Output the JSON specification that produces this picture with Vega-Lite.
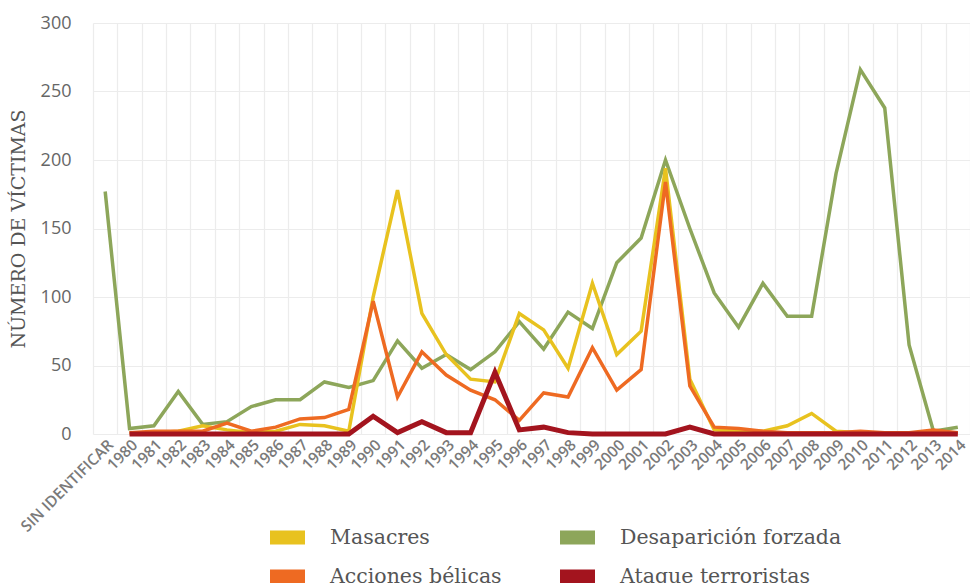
{
  "$schema": "https://vega.github.io/schema/vega-lite/v6.json",
  "width": 877,
  "height": 411,
  "autosize": {"type": "none"},
  "padding": {"left": 93, "top": 23, "right": 0, "bottom": 149},
  "background": "white",
  "config": {
    "view": {"stroke": null},
    "axis": {"gridColor": "#ececec", "gridWidth": 1.2, "domain": false, "ticks": false}
  },
  "data": {
    "values": [
      {"a": "SIN IDENTIFICAR", "t": "Desaparición forzada", "v": 177},
      {"a": "1980", "t": "Desaparición forzada", "v": 4},
      {"a": "1981", "t": "Desaparición forzada", "v": 6},
      {"a": "1982", "t": "Desaparición forzada", "v": 31},
      {"a": "1983", "t": "Desaparición forzada", "v": 7},
      {"a": "1984", "t": "Desaparición forzada", "v": 9},
      {"a": "1985", "t": "Desaparición forzada", "v": 20},
      {"a": "1986", "t": "Desaparición forzada", "v": 25},
      {"a": "1987", "t": "Desaparición forzada", "v": 25},
      {"a": "1988", "t": "Desaparición forzada", "v": 38},
      {"a": "1989", "t": "Desaparición forzada", "v": 34},
      {"a": "1990", "t": "Desaparición forzada", "v": 39},
      {"a": "1991", "t": "Desaparición forzada", "v": 68},
      {"a": "1992", "t": "Desaparición forzada", "v": 48},
      {"a": "1993", "t": "Desaparición forzada", "v": 58},
      {"a": "1994", "t": "Desaparición forzada", "v": 47},
      {"a": "1995", "t": "Desaparición forzada", "v": 60},
      {"a": "1996", "t": "Desaparición forzada", "v": 82},
      {"a": "1997", "t": "Desaparición forzada", "v": 62},
      {"a": "1998", "t": "Desaparición forzada", "v": 89},
      {"a": "1999", "t": "Desaparición forzada", "v": 77},
      {"a": "2000", "t": "Desaparición forzada", "v": 125},
      {"a": "2001", "t": "Desaparición forzada", "v": 143},
      {"a": "2002", "t": "Desaparición forzada", "v": 200},
      {"a": "2003", "t": "Desaparición forzada", "v": 150},
      {"a": "2004", "t": "Desaparición forzada", "v": 103},
      {"a": "2005", "t": "Desaparición forzada", "v": 78},
      {"a": "2006", "t": "Desaparición forzada", "v": 110},
      {"a": "2007", "t": "Desaparición forzada", "v": 86},
      {"a": "2008", "t": "Desaparición forzada", "v": 86},
      {"a": "2009", "t": "Desaparición forzada", "v": 190},
      {"a": "2010", "t": "Desaparición forzada", "v": 266},
      {"a": "2011", "t": "Desaparición forzada", "v": 238},
      {"a": "2012", "t": "Desaparición forzada", "v": 65},
      {"a": "2013", "t": "Desaparición forzada", "v": 2},
      {"a": "2014", "t": "Desaparición forzada", "v": 5},
      {"a": "1980", "t": "Masacres", "v": 1},
      {"a": "1981", "t": "Masacres", "v": 1},
      {"a": "1982", "t": "Masacres", "v": 2},
      {"a": "1983", "t": "Masacres", "v": 6},
      {"a": "1984", "t": "Masacres", "v": 3},
      {"a": "1985", "t": "Masacres", "v": 1},
      {"a": "1986", "t": "Masacres", "v": 2},
      {"a": "1987", "t": "Masacres", "v": 7},
      {"a": "1988", "t": "Masacres", "v": 6},
      {"a": "1989", "t": "Masacres", "v": 2},
      {"a": "1990", "t": "Masacres", "v": 100},
      {"a": "1991", "t": "Masacres", "v": 178},
      {"a": "1992", "t": "Masacres", "v": 88},
      {"a": "1993", "t": "Masacres", "v": 58},
      {"a": "1994", "t": "Masacres", "v": 40},
      {"a": "1995", "t": "Masacres", "v": 38},
      {"a": "1996", "t": "Masacres", "v": 88},
      {"a": "1997", "t": "Masacres", "v": 76},
      {"a": "1998", "t": "Masacres", "v": 48},
      {"a": "1999", "t": "Masacres", "v": 110},
      {"a": "2000", "t": "Masacres", "v": 58},
      {"a": "2001", "t": "Masacres", "v": 75},
      {"a": "2002", "t": "Masacres", "v": 194},
      {"a": "2003", "t": "Masacres", "v": 40},
      {"a": "2004", "t": "Masacres", "v": 3},
      {"a": "2005", "t": "Masacres", "v": 2},
      {"a": "2006", "t": "Masacres", "v": 2},
      {"a": "2007", "t": "Masacres", "v": 6},
      {"a": "2008", "t": "Masacres", "v": 15},
      {"a": "2009", "t": "Masacres", "v": 2},
      {"a": "2010", "t": "Masacres", "v": 1},
      {"a": "2011", "t": "Masacres", "v": 1},
      {"a": "2012", "t": "Masacres", "v": 1},
      {"a": "2013", "t": "Masacres", "v": 1},
      {"a": "2014", "t": "Masacres", "v": 1},
      {"a": "1980", "t": "Acciones bélicas", "v": 1},
      {"a": "1981", "t": "Acciones bélicas", "v": 2},
      {"a": "1982", "t": "Acciones bélicas", "v": 2},
      {"a": "1983", "t": "Acciones bélicas", "v": 2},
      {"a": "1984", "t": "Acciones bélicas", "v": 8},
      {"a": "1985", "t": "Acciones bélicas", "v": 2},
      {"a": "1986", "t": "Acciones bélicas", "v": 5},
      {"a": "1987", "t": "Acciones bélicas", "v": 11},
      {"a": "1988", "t": "Acciones bélicas", "v": 12},
      {"a": "1989", "t": "Acciones bélicas", "v": 18},
      {"a": "1990", "t": "Acciones bélicas", "v": 97},
      {"a": "1991", "t": "Acciones bélicas", "v": 27},
      {"a": "1992", "t": "Acciones bélicas", "v": 60},
      {"a": "1993", "t": "Acciones bélicas", "v": 43},
      {"a": "1994", "t": "Acciones bélicas", "v": 32},
      {"a": "1995", "t": "Acciones bélicas", "v": 25},
      {"a": "1996", "t": "Acciones bélicas", "v": 10},
      {"a": "1997", "t": "Acciones bélicas", "v": 30},
      {"a": "1998", "t": "Acciones bélicas", "v": 27},
      {"a": "1999", "t": "Acciones bélicas", "v": 63},
      {"a": "2000", "t": "Acciones bélicas", "v": 32},
      {"a": "2001", "t": "Acciones bélicas", "v": 47},
      {"a": "2002", "t": "Acciones bélicas", "v": 184},
      {"a": "2003", "t": "Acciones bélicas", "v": 35},
      {"a": "2004", "t": "Acciones bélicas", "v": 5},
      {"a": "2005", "t": "Acciones bélicas", "v": 4},
      {"a": "2006", "t": "Acciones bélicas", "v": 2},
      {"a": "2007", "t": "Acciones bélicas", "v": 1},
      {"a": "2008", "t": "Acciones bélicas", "v": 1},
      {"a": "2009", "t": "Acciones bélicas", "v": 1},
      {"a": "2010", "t": "Acciones bélicas", "v": 2},
      {"a": "2011", "t": "Acciones bélicas", "v": 1},
      {"a": "2012", "t": "Acciones bélicas", "v": 1},
      {"a": "2013", "t": "Acciones bélicas", "v": 3},
      {"a": "2014", "t": "Acciones bélicas", "v": 1},
      {"a": "1980", "t": "Ataque terroristas", "v": 0},
      {"a": "1981", "t": "Ataque terroristas", "v": 0},
      {"a": "1982", "t": "Ataque terroristas", "v": 0},
      {"a": "1983", "t": "Ataque terroristas", "v": 0},
      {"a": "1984", "t": "Ataque terroristas", "v": 0},
      {"a": "1985", "t": "Ataque terroristas", "v": 0},
      {"a": "1986", "t": "Ataque terroristas", "v": 0},
      {"a": "1987", "t": "Ataque terroristas", "v": 0},
      {"a": "1988", "t": "Ataque terroristas", "v": 0},
      {"a": "1989", "t": "Ataque terroristas", "v": 0},
      {"a": "1990", "t": "Ataque terroristas", "v": 13},
      {"a": "1991", "t": "Ataque terroristas", "v": 1},
      {"a": "1992", "t": "Ataque terroristas", "v": 9},
      {"a": "1993", "t": "Ataque terroristas", "v": 1},
      {"a": "1994", "t": "Ataque terroristas", "v": 1},
      {"a": "1995", "t": "Ataque terroristas", "v": 45},
      {"a": "1996", "t": "Ataque terroristas", "v": 3},
      {"a": "1997", "t": "Ataque terroristas", "v": 5},
      {"a": "1998", "t": "Ataque terroristas", "v": 1},
      {"a": "1999", "t": "Ataque terroristas", "v": 0},
      {"a": "2000", "t": "Ataque terroristas", "v": 0},
      {"a": "2001", "t": "Ataque terroristas", "v": 0},
      {"a": "2002", "t": "Ataque terroristas", "v": 0},
      {"a": "2003", "t": "Ataque terroristas", "v": 5},
      {"a": "2004", "t": "Ataque terroristas", "v": 0},
      {"a": "2005", "t": "Ataque terroristas", "v": 0},
      {"a": "2006", "t": "Ataque terroristas", "v": 0},
      {"a": "2007", "t": "Ataque terroristas", "v": 0},
      {"a": "2008", "t": "Ataque terroristas", "v": 0},
      {"a": "2009", "t": "Ataque terroristas", "v": 0},
      {"a": "2010", "t": "Ataque terroristas", "v": 0},
      {"a": "2011", "t": "Ataque terroristas", "v": 0},
      {"a": "2012", "t": "Ataque terroristas", "v": 0},
      {"a": "2013", "t": "Ataque terroristas", "v": 0},
      {"a": "2014", "t": "Ataque terroristas", "v": 0}
    ]
  },
  "encoding": {
    "x": {
      "field": "a",
      "type": "ordinal",
      "scale": {
        "type": "band",
        "paddingInner": 0,
        "paddingOuter": 0,
        "domain": ["SIN IDENTIFICAR", "1980", "1981", "1982", "1983", "1984", "1985", "1986", "1987", "1988", "1989", "1990", "1991", "1992", "1993", "1994", "1995", "1996", "1997", "1998", "1999", "2000", "2001", "2002", "2003", "2004", "2005", "2006", "2007", "2008", "2009", "2010", "2011", "2012", "2013", "2014"]
      },
      "axis": {
        "title": null,
        "tickBand": "extent",
        "grid": true,
        "labelAngle": -45,
        "labelFont": "Open Sans",
        "labelFontSize": 15.5,
        "labelFontWeight": 600,
        "labelColor": "#7a7a7a",
        "labelPadding": 3
      }
    },
    "y": {
      "field": "v",
      "type": "quantitative",
      "scale": {"domain": [0, 300], "nice": false},
      "axis": {
        "values": [0, 50, 100, 150, 200, 250, 300],
        "title": "NÚMERO DE VÍCTIMAS",
        "titleFont": "DejaVu Serif",
        "titleFontSize": 19,
        "titleFontWeight": "normal",
        "titleColor": "#555555",
        "titlePadding": 12,
        "labelFont": "Open Sans",
        "labelFontSize": 18,
        "labelColor": "#666666",
        "labelPadding": 22
      }
    },
    "color": {
      "field": "t",
      "type": "nominal",
      "scale": {
        "domain": ["Masacres", "Desaparición forzada", "Acciones bélicas", "Ataque terroristas"],
        "range": ["#E8C21F", "#8DA65A", "#EE6A22", "#A3141E"]
      },
      "legend": {
        "title": null,
        "orient": "none",
        "legendX": 177,
        "legendY": 497,
        "direction": "horizontal",
        "columns": 2,
        "columnPadding": 58,
        "rowPadding": 11,
        "symbolType": "M-1,-0.4H1V0.4H-1Z",
        "symbolSize": 1225,
        "symbolStrokeWidth": 0,
        "labelFont": "DejaVu Serif",
        "labelFontSize": 20.5,
        "labelColor": "#555555",
        "labelOffset": 25,
        "labelLimit": 400,
        "encode": {
          "symbols": {
            "update": {
              "fill": {"scale": "color", "field": "value"},
              "fillOpacity": {"value": 1},
              "strokeWidth": {"value": 0}
            }
          }
        }
      }
    }
  },
  "layer": [
    {
      "transform": [{"filter": "datum.t != 'Ataque terroristas'"}],
      "mark": {"type": "line", "strokeWidth": 3.5, "strokeJoin": "miter"}
    },
    {
      "transform": [{"filter": "datum.t == 'Ataque terroristas'"}],
      "mark": {"type": "line", "strokeWidth": 5, "strokeJoin": "miter"}
    }
  ]
}
